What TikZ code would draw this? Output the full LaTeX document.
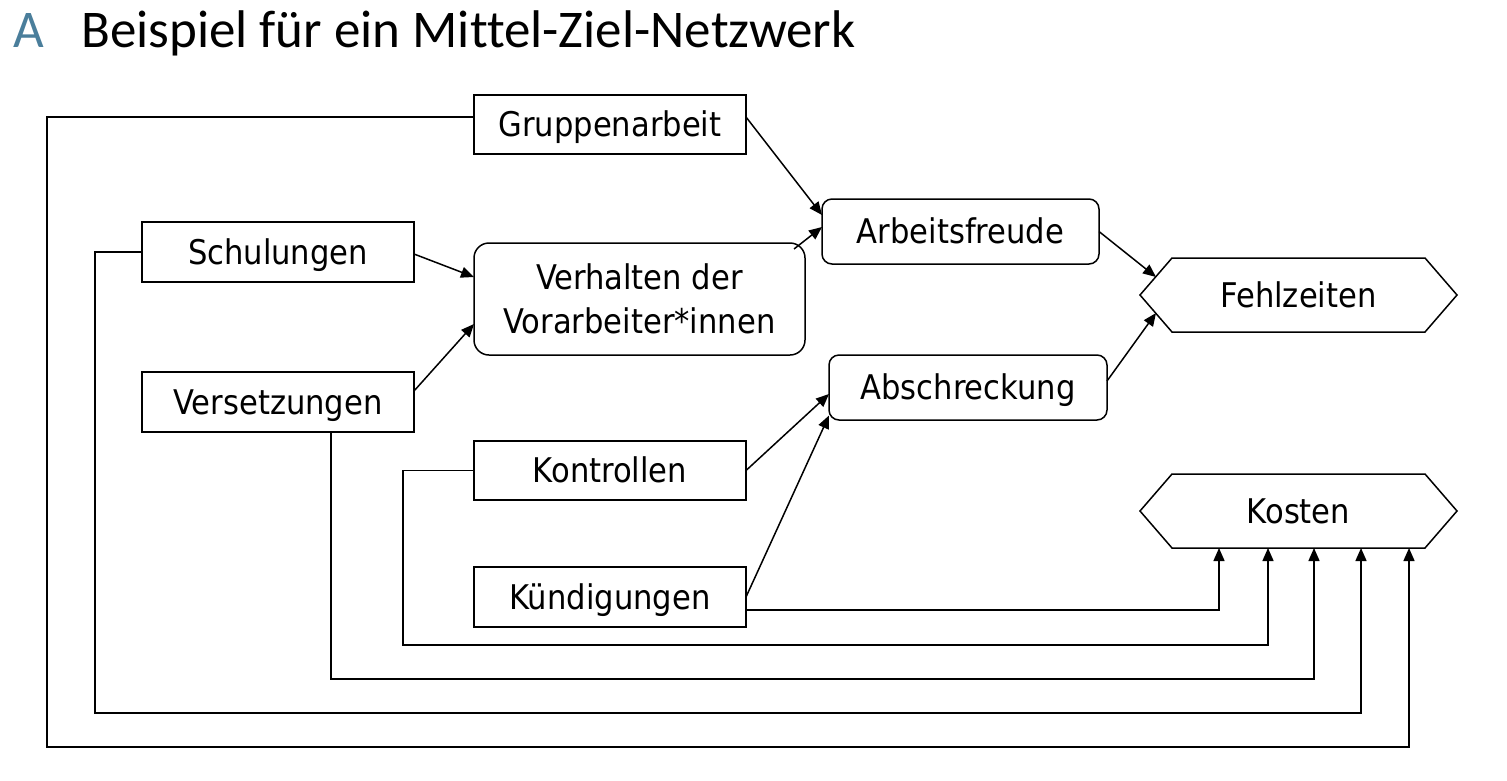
\documentclass[tikz,border=0pt]{standalone}
\usepackage{fontspec}
\usetikzlibrary{arrows.meta,calc}
\newfontfamily\boxfont{DejaVuSansCondensed.ttf}
\newfontfamily\titlefont[Ligatures={NoCommon,NoRare}]{Carlito}
\definecolor{titleblue}{HTML}{4A7E9B}
\begin{document}
\begin{tikzpicture}[x=1pt,y=-1pt,
  box/.style={draw, line width=1.5pt, inner sep=0pt, outer sep=0pt,
    minimum width=272pt, minimum height=60pt,
    font=\boxfont\fontsize{34}{44}\selectfont, text height=24.8pt, text depth=0pt},
  rbox/.style={box, rounded corners=10pt},
  goal/.style={inner sep=0pt, outer sep=0pt, minimum width=253pt, minimum height=74pt,
    font=\boxfont\fontsize{34}{44}\selectfont, text height=24.8pt, text depth=0pt},
  arr/.style={-{Triangle[length=13pt,width=11pt]}, line width=1.5pt},
  ln/.style={line width=1.5pt}]
\useasboundingbox (0,0) rectangle (1507,780);
% title
\node[anchor=base west, inner sep=0pt, font=\titlefont\fontsize{53}{60}\selectfont, text=titleblue] (tA) at (13,47) {A};
\node[anchor=base west, inner sep=0pt, font=\titlefont\fontsize{53}{60}\selectfont] (title) at (81,47) {Beispiel für ein Mittel-Ziel-Netzwerk};
% boxes
\node[box, minimum height=59pt] (grp) at (610,124.5) {Gruppenarbeit};
\node[box] (sch) at (278,252) {Schulungen};
\node[box] (ver) at (278,402) {Versetzungen};
\node[box, rounded corners=15pt, minimum width=331pt, minimum height=112pt, align=center, text height=, text depth=] (vh) at (639.5,299) {Verhalten der\\Vorarbeiter*innen};
\node[rbox, minimum width=277pt, minimum height=65pt] (af) at (960.5,231.5) {Arbeitsfreude};
\node[rbox, minimum width=278pt, minimum height=65pt] (ab) at (968,387.5) {Abschreckung};
\node[box, minimum height=59pt] (kon) at (610,470.5) {Kontrollen};
\node[box] (kue) at (610,597) {Kündigungen};
\node[goal] (fz) at (1298.5,295) {Fehlzeiten};
\node[goal] (ko) at (1298.5,511) {Kosten};
\foreach \n in {fz,ko}{
  \draw[line width=1.5pt] (\n.north west) -- (\n.north east) -- ([xshift=32pt]\n.east) -- (\n.south east) -- (\n.south west) -- ([xshift=-32pt]\n.west) -- cycle;
}
% arrows
\draw[arr] ([yshift=7.5pt]grp.east) -- ([yshift=16.5pt]af.west);
\draw[arr] ([xshift=-11pt,yshift=-6pt]vh.north east) -- ([yshift=4.5pt]af.west);
\draw[arr] ([yshift=-2pt]sch.east) -- ([yshift=22pt]vh.west);
\draw[arr] ([yshift=11pt]ver.east) -- ([yshift=-25pt]vh.west);
\draw[arr] (af.east) -- ([xshift=-16pt,yshift=18pt]fz.west);
\draw[arr] ([yshift=6.5pt]ab.east) -- ([xshift=-16pt,yshift=-18pt]fz.west);
\draw[arr] (kon.east) -- ([yshift=-6.5pt]ab.west);
\draw[arr] (kue.east) -- ([yshift=-28pt]ab.west);
% cost lines
\draw[arr] ([yshift=-13pt]kue.east) -| ([xshift=-79.5pt]ko.south);
\draw[arr] (kon.west) -- ++(-71,0) |- (1268,645) -- ([xshift=-30.5pt]ko.south);
\draw[arr] ([xshift=53pt]ver.south) -- ++(0,247) -| ([xshift=15.5pt]ko.south);
\draw[arr] (sch.west) -- ++(-47,0) |- (1361,713) -- ([xshift=62.5pt]ko.south);
\draw[arr] ([yshift=7.5pt]grp.west) -- ++(-427,0) |- (1409,747) -- ([xshift=110.5pt]ko.south);
\end{tikzpicture}
\end{document}
